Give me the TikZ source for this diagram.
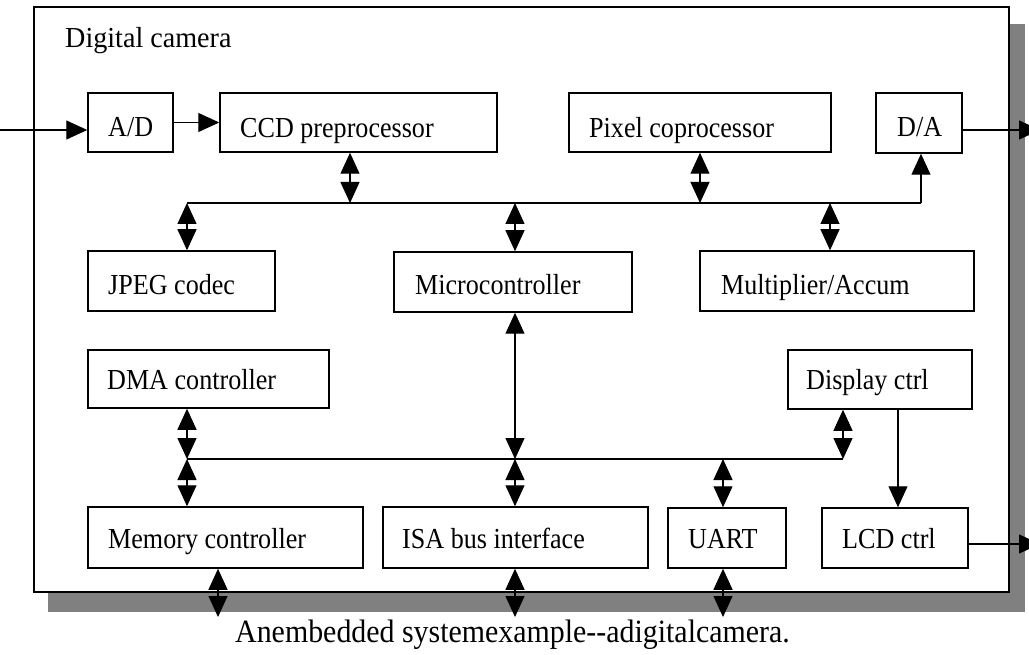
\documentclass[tikz,border=0pt]{standalone}
\usepackage{fontspec}
\setmainfont{Liberation Serif}
\newfontfamily\lblfont[FakeStretch=0.9]{Liberation Serif}
\newfontfamily\ttlfont[FakeStretch=0.97]{Liberation Serif}
\newfontfamily\capfont[FakeStretch=0.92]{Liberation Serif}
\usetikzlibrary{arrows.meta}
\definecolor{shadowgray}{RGB}{128,128,128}
\tikzset{
 box/.style={draw, line width=1.5pt, inner sep=0pt, fill=white},
 lbl/.style={font=\lblfont\fontsize{29}{33}\selectfont, inner sep=0pt, anchor=base west},
 wire/.style={line width=1.2pt},
 sgl/.style={wire, -{Triangle[length=21pt,width=19pt]}},
 dbl/.style={wire, {Triangle[length=21pt,width=19pt]}-{Triangle[length=21pt,width=19pt]}},
}
\begin{document}
\begin{tikzpicture}[x=1pt,y=-1pt]
\useasboundingbox (0,0) rectangle (1029,655);
% shadow and outer frame
\fill[shadowgray] (48,24) rectangle (1025,612);
\node[draw, line width=1.8pt, fill=white, inner sep=0pt, minimum width=975pt, minimum height=585pt] (cam) at (521.5,299.5) {};
\node[font=\ttlfont\fontsize{29}{33}\selectfont, inner sep=0pt, anchor=base west] (title) at (65,48) {Digital camera};
% boxes
\node[box, minimum width=85pt,  minimum height=59pt] (ad)   at (130.5,122.5) {};
\node[box, minimum width=277pt, minimum height=59pt] (ccd)  at (358.5,122.5) {};
\node[box, minimum width=262pt, minimum height=59pt] (pix)  at (700,122.5) {};
\node[box, minimum width=86pt,  minimum height=60pt] (da)   at (919,123) {};
\node[box, minimum width=187pt, minimum height=60pt] (jpeg) at (181.5,281) {};
\node[box, minimum width=238pt, minimum height=60pt] (mc)   at (513,282) {};
\node[box, minimum width=274pt, minimum height=60pt] (mul)  at (837,281) {};
\node[box, minimum width=241pt, minimum height=58pt] (dma)  at (208.5,379) {};
\node[box, minimum width=184pt, minimum height=59pt] (disp) at (880,379.5) {};
\node[box, minimum width=275pt, minimum height=61pt] (mem)  at (225.5,537.5) {};
\node[box, minimum width=265pt, minimum height=61pt] (isa)  at (515.5,537.5) {};
\node[box, minimum width=118pt, minimum height=60pt] (uart) at (727,538) {};
\node[box, minimum width=146pt, minimum height=60pt] (lcd)  at (895,538) {};
% labels
\node[lbl] (adt)   at (108,137) {A/D};
\node[lbl] (ccdt)  at (240,138) {CCD preprocessor};
\node[lbl] (pixt)  at (589,138) {Pixel coprocessor};
\node[lbl] (dat)   at (897,137) {D/A};
\node[lbl] (jpegt) at (108,295) {JPEG codec};
\node[lbl] (mct)   at (415,295) {Microcontroller};
\node[lbl] (mult)  at (721,295) {Multiplier/Accum};
\node[lbl] (dmat)  at (107,389) {DMA controller};
\node[lbl] (dispt) at (806,389) {Display ctrl};
\node[lbl] (memt)  at (108,548) {Memory controller};
\node[lbl] (isat)  at (402,548) {ISA bus interface};
\node[lbl] (uartt) at (688,548) {UART};
\node[lbl] (lcdt)  at (842,548) {LCD ctrl};
% bus coordinates
\coordinate (in) at (0,130);
\coordinate (daout) at (1040,130);
\coordinate (lcdout) at (1040,544);
\coordinate (b1a) at (187,203);
\coordinate (b1ccd) at (350,203);
\coordinate (b1mc) at (515,203);
\coordinate (b1pix) at (700,203);
\coordinate (b1mul) at (830,203);
\coordinate (b1da) at (921,203);
\coordinate (b2a) at (187,459);
\coordinate (b2mc) at (515,459);
\coordinate (b2uart) at (723,459);
\coordinate (b2disp) at (843,459);
\coordinate (dl) at (898,459);
\coordinate (ext1) at (218,617);
\coordinate (ext2) at (515,617);
\coordinate (ext3) at (723,617);
% external arrows
\draw[sgl] (in) -- (in -| ad.west);
\draw[sgl] (ad.east) -- (ccd.west);
\draw[sgl] (da.east |- daout) -- (daout);
\draw[sgl] (lcd.east |- lcdout) -- (lcdout);
% top bus
\draw[wire] (b1a) -- (b1da);
\draw[sgl] (b1da) -- (b1da |- da.south);
\draw[dbl] (b1ccd |- ccd.south) -- (b1ccd);
\draw[dbl] (b1pix |- pix.south) -- (b1pix);
\draw[dbl] (b1a) -- (b1a |- jpeg.north);
\draw[dbl] (b1mc) -- (b1mc |- mc.north);
\draw[dbl] (b1mul) -- (b1mul |- mul.north);
% lower bus
\draw[wire] (b2a) -- (b2disp);
\draw[dbl] (b2a |- dma.south) -- (b2a);
\draw[dbl] (b2a) -- (b2a |- mem.north);
\draw[dbl] (b2mc |- mc.south) -- (b2mc);
\draw[dbl] (b2mc) -- (b2mc |- isa.north);
\draw[dbl] (b2uart) -- (b2uart |- uart.north);
\draw[dbl] (b2disp |- disp.south) -- (b2disp);
\draw[sgl] (dl |- disp.south) -- (dl |- lcd.north);
% off-board connections
\draw[dbl] (ext1 |- mem.south) -- (ext1);
\draw[dbl] (ext2 |- isa.south) -- (ext2);
\draw[dbl] (ext3 |- uart.south) -- (ext3);
% caption
\node[font=\capfont\fontsize{32.5}{36}\selectfont, inner sep=0pt, anchor=base west] (cap) at (235,642) {Anembedded systemexample-\kern0pt-adigitalcamera.};
\end{tikzpicture}
\end{document}
